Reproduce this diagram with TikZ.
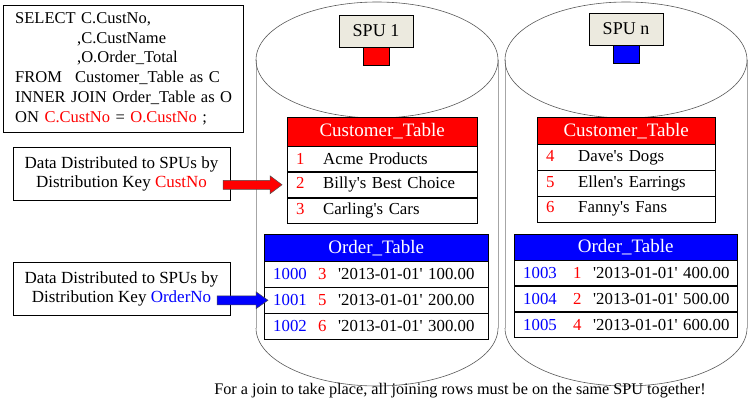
\documentclass[tikz,border=0pt]{standalone}
\usepackage{fontspec}
\setmainfont{Liberation Serif}
\usetikzlibrary{positioning, calc}

\definecolor{spugray}{HTML}{ECEADF}
\newcommand{\sqlfont}{\fontsize{16.5}{19.8}\selectfont}
\newcommand{\boxfont}{\fontsize{17}{19}\selectfont}
\newcommand{\cellfont}{\fontsize{16.8}{20}\selectfont}
\newcommand{\hdrfont}{\fontsize{19}{21}\selectfont}
\newcommand{\notefont}{\fontsize{16.2}{19}\selectfont}
\newcommand{\qt}{\textquotesingle}

\tikzset{
  sqlbox/.style={
    draw, minimum height=127pt, inner xsep=12pt,
    text width=216pt, align=left, font=\sqlfont
  },
  keybox/.style={
    draw, minimum width=217pt, minimum height=53pt,
    inner sep=2pt, align=center, font=\boxfont
  },
  spulabel/.style={
    draw, fill=spugray, minimum width=74pt, minimum height=32pt,
    inner sep=0pt, font=\fontsize{18}{20}\selectfont
  },
  spukey/.style={
    draw, fill=#1, minimum width=26pt, minimum height=18pt, inner sep=0pt
  },
  tblhead/.style={
    draw, fill=#1, text=white, inner sep=0pt, font=\hdrfont
  },
  tblrow/.style={
    draw, fill=white, minimum height=25.5pt, inner ysep=0pt,
    inner xsep=9pt, text width=#1, align=left, font=\cellfont
  },
  cylside/.style={draw=black!35, line width=0.9pt},
  cylrim/.style={draw=black!65, line width=0.6pt},
  keyarrow/.style={draw=black!70, fill=#1, line width=0.5pt},
}

\begin{document}
\begin{tikzpicture}[x=1pt, y=-1pt]
  \useasboundingbox (0,0) rectangle (748,402);

  % SPU cylinders
  \draw[cylside] (256,60) -- (256,328);
  \draw[cylside] (498,60) -- (498,328);
  \draw[cylrim] (377,60) ellipse [x radius=121, y radius=58];
  \draw[cylrim] (256,328) arc[start angle=180, end angle=0, x radius=121, y radius=58];
  \draw[cylside] (505,60) -- (505,328);
  \draw[cylside] (747,60) -- (747,328);
  \draw[cylrim] (626,60) ellipse [x radius=121, y radius=58];
  \draw[cylrim] (505,328) arc[start angle=180, end angle=0, x radius=121, y radius=58];

  \node[spulabel] (spu1) at (376,31) {SPU 1};
  \node[spukey=red, below=0pt of spu1] (spu1key) {};
  \node[spulabel] (spun) at (626,29) {SPU n};
  \node[spukey=blue, below=0pt of spun] (spunkey) {};

  % SQL query
  \node[sqlbox, anchor=north west] (sql) at (3,5) {%
    \mbox{SELECT C.CustNo,}\\
    \mbox{\hspace*{62pt},C.CustName}\\
    \mbox{\hspace*{62pt},O.Order\_Total}\\
    \mbox{\makebox[60pt][l]{FROM}Customer\_Table as C}\\
    \mbox{INNER JOIN Order\_Table as O}\\
    \mbox{ON \textcolor{red}{C.CustNo} = \textcolor{red}{O.CustNo} ;}};

  % distribution keys
  \node[keybox] (dd1) at (121.5,173.5)
    {Data Distributed to SPUs by\\Distribution Key \textcolor{red}{CustNo}};
  \node[keybox] (dd2) at (121.5,288.5)
    {Data Distributed to SPUs by\\Distribution Key \textcolor{blue}{OrderNo}};

  % SPU 1 tables
  \node[tblhead=red, minimum width=190pt, minimum height=28.5pt,
        anchor=north west] (cust1) at (287,117) {Customer\_Table};
  \node[tblrow=172pt, below=0pt of cust1] (cust1a)
    {\makebox[27pt][l]{\textcolor{red}{1}}Acme Products};
  \node[tblrow=172pt, below=0pt of cust1a] (cust1b)
    {\makebox[27pt][l]{\textcolor{red}{2}}Billy\qt s Best Choice};
  \node[tblrow=172pt, below=0pt of cust1b] (cust1c)
    {\makebox[27pt][l]{\textcolor{red}{3}}Carling\qt s Cars};

  \node[tblhead=blue, minimum width=224pt, minimum height=27pt,
        anchor=north west] (ord1) at (264,234) {Order\_Table};
  \node[tblrow=206pt, below=0pt of ord1] (ord1a)
    {\mbox{\makebox[45pt][l]{\textcolor{blue}{1000}}\makebox[20pt][l]{\textcolor{red}{3}}\qt 2013-01-01\qt\ 100.00}};
  \node[tblrow=206pt, below=0pt of ord1a] (ord1b)
    {\mbox{\makebox[45pt][l]{\textcolor{blue}{1001}}\makebox[20pt][l]{\textcolor{red}{5}}\qt 2013-01-01\qt\ 200.00}};
  \node[tblrow=206pt, below=0pt of ord1b] (ord1c)
    {\mbox{\makebox[45pt][l]{\textcolor{blue}{1002}}\makebox[20pt][l]{\textcolor{red}{6}}\qt 2013-01-01\qt\ 300.00}};

  % SPU n tables
  \node[tblhead=red, minimum width=178pt, minimum height=27pt,
        anchor=north west] (cust2) at (537,117) {Customer\_Table};
  \node[tblrow=160pt, below=0pt of cust2] (cust2a)
    {\makebox[32pt][l]{\textcolor{red}{4}}Dave\qt s Dogs};
  \node[tblrow=160pt, below=0pt of cust2a] (cust2b)
    {\makebox[32pt][l]{\textcolor{red}{5}}Ellen\qt s Earrings};
  \node[tblrow=160pt, below=0pt of cust2b] (cust2c)
    {\makebox[32pt][l]{\textcolor{red}{6}}Fanny\qt s Fans};

  \node[tblhead=blue, minimum width=223pt, minimum height=25.5pt,
        anchor=north west] (ord2) at (514,234) {Order\_Table};
  \node[tblrow=205pt, below=0pt of ord2] (ord2a)
    {\mbox{\makebox[50pt][l]{\textcolor{blue}{1003}}\makebox[20pt][l]{\textcolor{red}{1}}\qt 2013-01-01\qt\ 400.00}};
  \node[tblrow=205pt, below=0pt of ord2a] (ord2b)
    {\mbox{\makebox[50pt][l]{\textcolor{blue}{1004}}\makebox[20pt][l]{\textcolor{red}{2}}\qt 2013-01-01\qt\ 500.00}};
  \node[tblrow=205pt, below=0pt of ord2b] (ord2c)
    {\mbox{\makebox[50pt][l]{\textcolor{blue}{1005}}\makebox[20pt][l]{\textcolor{red}{4}}\qt 2013-01-01\qt\ 600.00}};

  % block arrows
  \coordinate (redtail) at ($(cust1b.west -| dd1.east)+(-7,0)$);
  \coordinate (redtip) at ($(cust1b.west)+(-5,0)$);
  \coordinate (bluetail) at ($(ord1b.west -| dd2.east)+(-13,0)$);
  \coordinate (bluetip) at ($(ord1b.west)+(4,0)$);
  \draw[keyarrow=red] let \p1=(redtail), \p2=(redtip) in
    (\x1,\y1+4.5pt) -- (\x2-12pt,\y1+4.5pt) -- (\x2-12pt,\y1+9pt) -- (\x2,\y1)
    -- (\x2-12pt,\y1-9pt) -- (\x2-12pt,\y1-4.5pt) -- (\x1,\y1-4.5pt) -- cycle;
  \draw[keyarrow=blue] let \p1=(bluetail), \p2=(bluetip) in
    (\x1,\y1+4.5pt) -- (\x2-12pt,\y1+4.5pt) -- (\x2-12pt,\y1+8.5pt) -- (\x2,\y1)
    -- (\x2-12pt,\y1-8.5pt) -- (\x2-12pt,\y1-4.5pt) -- (\x1,\y1-4.5pt) -- cycle;

  \node[font=\notefont] (note) at (460,391)
    {For a join to take place, all joining rows must be on the same SPU together!};
\end{tikzpicture}
\end{document}
